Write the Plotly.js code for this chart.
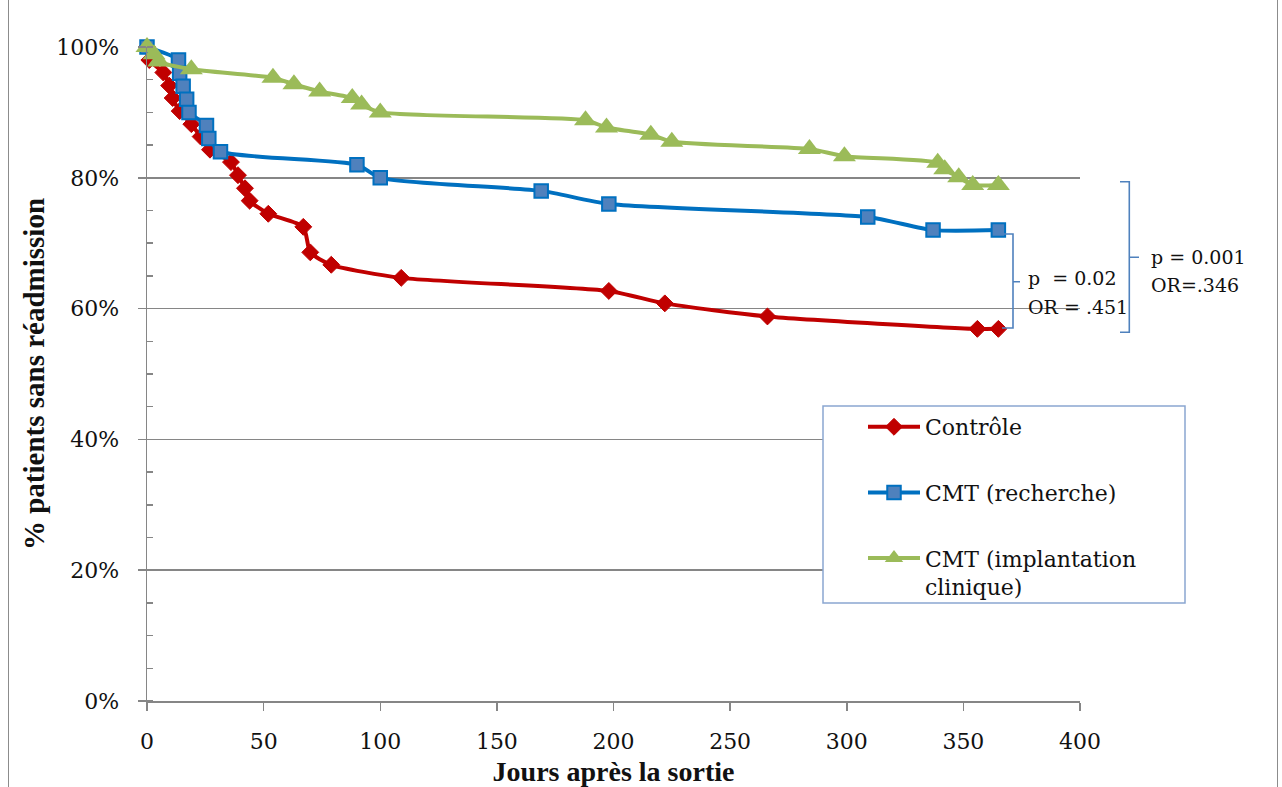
<!DOCTYPE html>
<html>
<head>
<meta charset="utf-8">
<script src="https://cdn.plot.ly/plotly-3.0.1.min.js"></script>
<style>
  html, body { margin: 0; padding: 0; background: #ffffff; }
  #wrap { position: relative; width: 1282px; height: 787px; }
  #chart { position: absolute; left: 0; top: 0; width: 1282px; height: 787px; }
  .edge { position: absolute; top: 0; width: 0; height: 787px; border-left: 1.5px solid #8c8c8c; }
</style>
</head>
<body>
<div id="wrap">
  <div id="chart"></div>
  <div class="edge" style="left:8px"></div>
  <div class="edge" style="left:1277px"></div>
</div>
<script>
// ---- data ----
const seriesNames = ["Contrôle", "CMT (recherche)", "CMT (implantation<br>clinique)"];

const daysControle = [0, 1, 7, 9.5, 11, 14, 19, 23, 27, 36, 39, 42, 44, 52, 67, 70, 79, 109, 198, 222, 266, 356, 365];
const pctControle  = [100, 98.0, 96.1, 94.1, 92.2, 90.2, 88.2, 86.3, 84.3, 82.4, 80.4, 78.4, 76.5, 74.5, 72.5, 68.6, 66.7, 64.7, 62.7, 60.8, 58.8, 56.9, 56.9];

const daysRecherche = [0, 13.5, 14, 15.5, 17, 18, 25.5, 26.5, 31.5, 90, 100, 169, 198, 309, 337, 365];
const pctRecherche  = [100, 98, 96, 94, 92, 90, 88, 86, 84, 82, 80, 78, 76, 74, 72, 72];

const daysImplant = [0, 3, 5, 19, 54, 63, 74, 88, 92, 100, 188, 197, 216, 225, 284, 299, 339, 342, 348, 354, 365];
const pctImplant  = [100, 98.9, 97.8, 96.6, 95.3, 94.3, 93.2, 92.2, 91.2, 90.0, 88.8, 87.7, 86.6, 85.5, 84.4, 83.3, 82.3, 81.3, 80.1, 78.9, 78.9];

const xTitle = "Jours après la sortie";
const yTitle = "% patients sans réadmission";
const statsInner = ["p&nbsp; = 0.02", "OR = .451"];
const statsOuter = ["p = 0.001", "OR=.346"];

// ---- styling ----
const serif = "DejaVu Serif, serif";
const titleFont = "Liberation Serif, Times New Roman, serif";
const gridGray = "#868686";
const braceBlue = "#4F81BD";

const traces = [
  {
    x: daysControle, y: pctControle, name: seriesNames[0], legendgroup: "a",
    type: "scatter", mode: "lines+markers", cliponaxis: false,
    line: { color: "#C00000", width: 4, shape: "spline", smoothing: 0.6 },
    marker: { symbol: "diamond", size: 13, color: "#C00000", line: { color: "#C00000", width: 1 } }
  },
  {
    x: daysRecherche, y: pctRecherche, name: seriesNames[1], legendgroup: "b",
    type: "scatter", mode: "lines+markers", cliponaxis: false,
    line: { color: "#0070C0", width: 4, shape: "spline", smoothing: 0.6 },
    marker: { symbol: "square", size: 13.5, color: "#4F81BD", line: { color: "#0070C0", width: 2 } }
  },
  {
    x: daysImplant, y: pctImplant, name: seriesNames[2], legendgroup: "c",
    type: "scatter", mode: "lines+markers", cliponaxis: false,
    line: { color: "#9BBB59", width: 4, shape: "spline", smoothing: 0.6 },
    marker: { symbol: "triangle-up", size: 20, color: "#9BBB59" }
  }
];

const L = 147, R = 1080, T = 47, B = 701;
const px = v => (v - L) / (R - L);
const py = v => (B - v) / (B - T);

function brace(x0, x1, x2, yTop, yBot, yMid) {
  return {
    type: "path", xref: "paper", yref: "paper", layer: "above",
    path: `M ${px(x0)},${py(yTop)} L ${px(x1)},${py(yTop)} L ${px(x1)},${py(yBot)} L ${px(x0)},${py(yBot)} M ${px(x1)},${py(yMid)} L ${px(x2)},${py(yMid)}`,
    line: { color: braceBlue, width: 1.6 }
  };
}

function note(text, xpx, ypx) {
  return {
    text: text, xref: "paper", yref: "paper", x: px(xpx), y: py(ypx),
    xanchor: "left", yanchor: "middle", showarrow: false,
    font: { family: serif, size: 19, color: "#111" }
  };
}

const layout = {
  width: 1282, height: 787,
  margin: { l: L, r: 1282 - R, t: T, b: 787 - B, pad: 0 },
  paper_bgcolor: "#ffffff", plot_bgcolor: "#ffffff",
  showlegend: true,
  xaxis: {
    range: [0, 400], tick0: 0, dtick: 50, showgrid: false, zeroline: false,
    showline: true, linecolor: gridGray, linewidth: 1.5,
    ticks: "outside", ticklen: 8, tickwidth: 1.5, tickcolor: gridGray,
    tickfont: { family: serif, size: 22, color: "#111" },
    ticklabelstandoff: 12,
    title: { text: "<b>" + xTitle + "</b>", font: { family: titleFont, size: 28, color: "#111" }, standoff: 8 }
  },
  yaxis: {
    range: [0, 100], tick0: 0, dtick: 20, ticksuffix: "%", showgrid: true,
    gridcolor: gridGray, gridwidth: 1.5, zeroline: false,
    showline: true, linecolor: gridGray, linewidth: 1.5,
    ticks: "outside", ticklen: 8, tickwidth: 1.5, tickcolor: gridGray,
    minor: { dtick: 5, ticks: "inside", ticklen: 6, tickwidth: 1.5, tickcolor: gridGray, showgrid: false },
    tickfont: { family: serif, size: 22, color: "#111" },
    ticklabelstandoff: 14,
    title: { text: "<b>" + yTitle + "</b>", font: { family: titleFont, size: 29, color: "#111" }, standoff: 3 }
  },
  legend: {
    x: px(823), xanchor: "left", y: py(406), yanchor: "top",
    bgcolor: "rgba(0,0,0,0)", borderwidth: 0,
    font: { family: serif, size: 22, color: "#111" },
    traceorder: "grouped", tracegroupgap: 34, valign: "top", indentation: 40, itemwidth: 52
  },
  shapes: [
    { type: "rect", xref: "paper", yref: "paper", layer: "above",
      x0: px(823), x1: px(1185), y0: py(603), y1: py(406),
      fillcolor: "#ffffff", line: { color: "#8aa6d1", width: 1.5 } },
    brace(1002, 1013, 1020, 234, 328, 281.7),
    brace(1120, 1129.3, 1139, 181.7, 332.3, 257.3)
  ],
  annotations: [
    note(statsInner[0], 1026, 278),
    note(statsInner[1], 1026, 307),
    note(statsOuter[0], 1149, 257),
    note(statsOuter[1], 1149, 285)
  ]
};

Plotly.newPlot("chart", traces, layout, { displayModeBar: false, staticPlot: true });
</script>
</body>
</html>
